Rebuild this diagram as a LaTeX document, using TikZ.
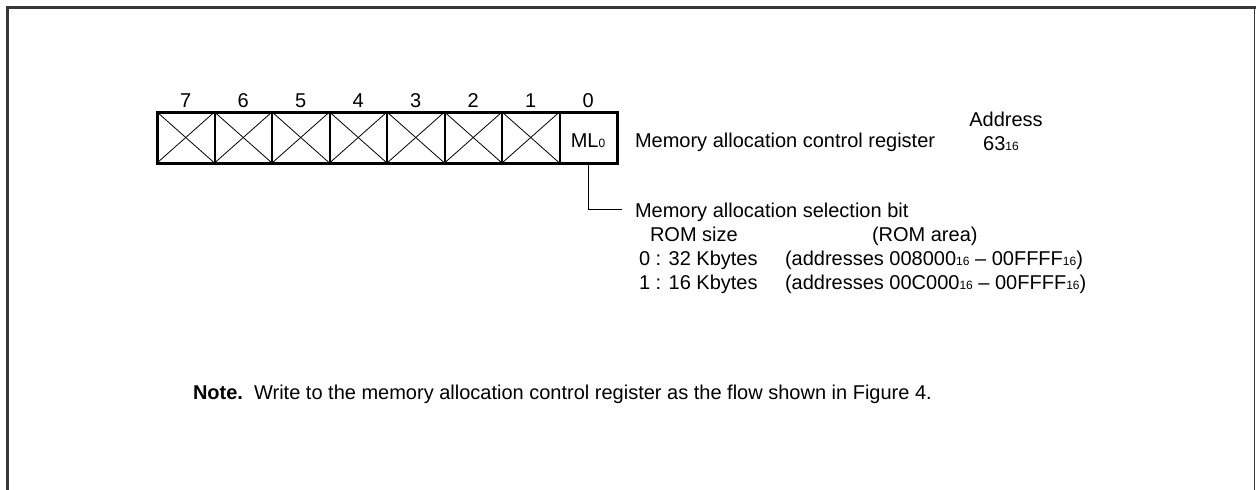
\documentclass[tikz,border=0pt]{standalone}
\usepackage{fontspec}
\setmainfont{Liberation Sans}
\newcommand{\smsub}[1]{{\fontsize{12}{12}\selectfont\raisebox{-0.5pt}{#1}}}
\begin{document}
\begin{tikzpicture}[x=1pt,y=-1pt,
  txt/.style={inner sep=0pt,outer sep=0pt,font=\fontsize{20}{24}\selectfont,anchor=base west},
  ctxt/.style={inner sep=0pt,outer sep=0pt,font=\fontsize{20}{24}\selectfont,anchor=base},
  cell/.style={draw,line width=2pt,minimum width=57.5pt,minimum height=51pt,inner sep=0pt,outer sep=0pt,anchor=north west},
  xline/.style={line width=0.8pt},
  frame/.style={draw=black!78},
  conn/.style={line width=1pt}]
\useasboundingbox (0,0) rectangle (1256,490);
% frame
\draw[frame,line width=3pt] (7.5,490) -- (7.5,7.5) -- (1256,7.5);
\draw[frame,line width=1.5pt] (1254.5,7.5) -- (1254.5,490);
% register cells
\foreach \b [count=\i from 0] in {7,6,5,4,3,2,1,0} {
  \node[cell] (c\b) at ({157+57.5*\i},112) {};
  \node[ctxt] (n\b) at ({157+57.5*\i+28.75},107) {\b};
}
\foreach \b in {7,6,5,4,3,2,1} {
  \draw[xline] (c\b.north west) -- (c\b.south east);
  \draw[xline] (c\b.south west) -- (c\b.north east);
}
\draw[line width=3pt] (c7.north west) rectangle (c0.south east);
\node[ctxt] (ml) at (588,147) {ML\smsub{0}};
\node[txt] (reg) at (635,147) {Memory allocation control register};
\node[ctxt] (addr) at (1006,126) {Address};
\node[ctxt] (addrv) at (1001,150) {63\smsub{16}};
% selection bit
\coordinate (bend) at (588,209);
\coordinate (cend) at (622,209);
\draw[conn] (c0.south -| bend) -- (bend) -- (cend);
\node[txt] (sel) at (635,217) {Memory allocation selection bit};
\node[txt] (romsz) at (650,241) {ROM size};
\node[txt] (romar) at (872,241) {(ROM area)};
\node[txt] (v0) at (639,265) {0 : 32 Kbytes};
\node[txt] (a0) at (785,265) {(addresses 008000\smsub{16} -- 00FFFF\smsub{16})};
\node[txt] (v1) at (639,289) {1 : 16 Kbytes};
\node[txt] (a1) at (785,289) {(addresses 00C000\smsub{16} -- 00FFFF\smsub{16})};
% note
\node[txt] (note) at (193,399) {\textbf{Note.}\ \ Write to the memory allocation control register as the flow shown in Figure 4.};
\end{tikzpicture}
\end{document}
